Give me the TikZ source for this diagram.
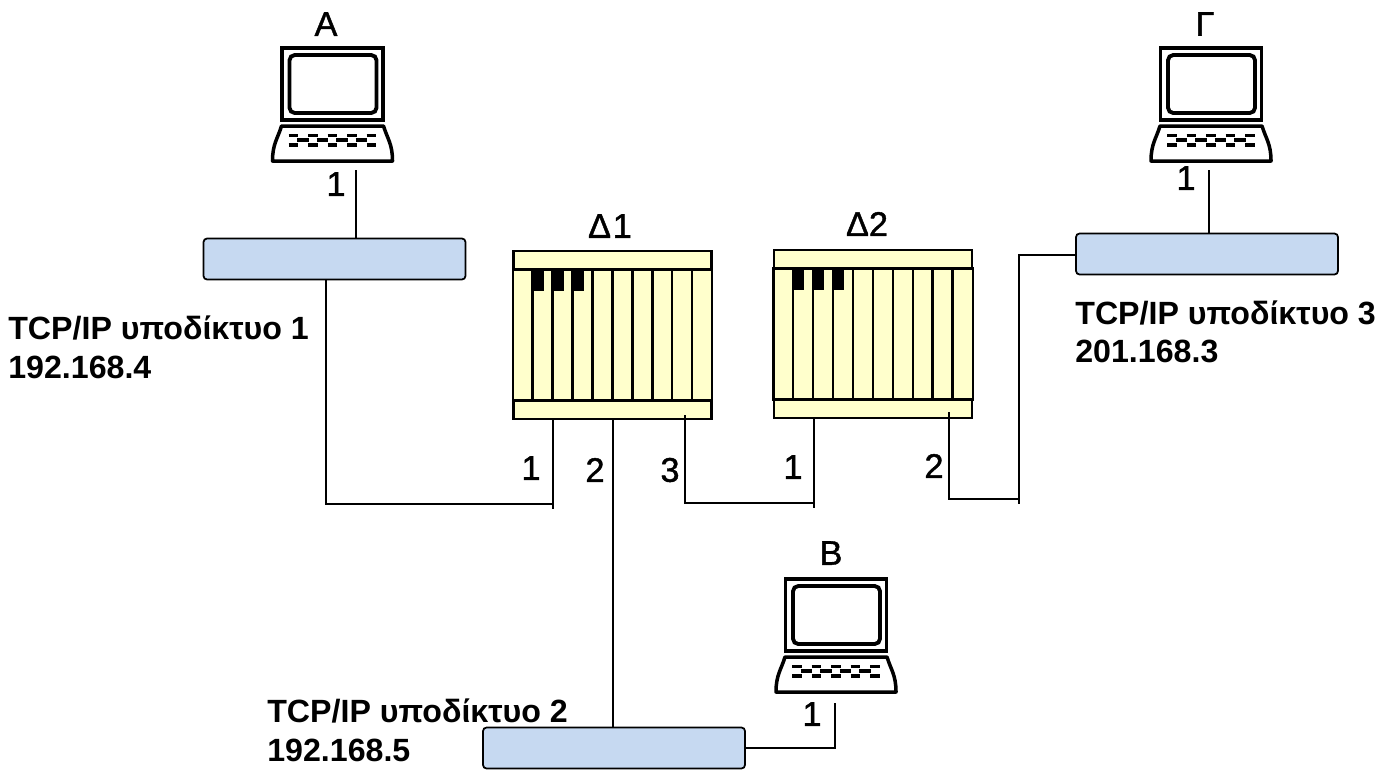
\documentclass[tikz,border=0pt]{standalone}
\usepackage{fontspec}
\setmainfont{Liberation Sans}
\newfontfamily\labelfont[FakeBold=1.2]{Liberation Sans}
\usepackage{xcolor}
\definecolor{netblue}{HTML}{C6D9F1}
\definecolor{rackyellow}{HTML}{FFFFCC}
\tikzset{
  link/.style={line width=1pt, line cap=butt},
  subnet/.style={draw, line width=1pt, rounded corners=2pt, fill=netblue,
    minimum width=5.24cm, minimum height=0.82cm, inner sep=0pt},
  name label/.style={font=\labelfont\fontsize{19.5}{22}\selectfont, inner sep=0pt},
  net label/.style={font=\fontsize{18.3}{22}\selectfont\bfseries, align=left, anchor=west, inner sep=0pt},
  pics/computer/.style={code={
    \node[draw, line width=1.9pt, minimum width=2.02cm, minimum height=1.44cm, inner sep=0pt] (-screen) at (0,37) {};
    \draw[line width=2.2pt, rounded corners=3pt] (-43,8) rectangle (44,66);
    \draw[line width=2pt, line join=round] (-51,79) -- (51,79) .. controls (55,92) and (60,97) .. (60,114) -- (-60,114) .. controls (-60,97) and (-55,92) .. (-51,79) -- cycle;
    \foreach \k in {0,...,4} {
      \draw[line width=2.1pt] (-44+19.5*\k,88.5) -- ++(9.5,0);
      \draw[line width=2.1pt] (-44+19.5*\k,98) -- ++(9.5,0);
    }
    \foreach \k in {0,...,3}
      \draw[line width=2.1pt] (-35.5+19.5*\k,93.3) -- ++(11.5,0);
  }},
  pics/rack/.style={code={
    \node[draw, line width=1.4pt, fill=rackyellow, minimum width=3.96cm, minimum height=0.37cm, inner sep=0pt] (-top) at (99.5,9) {};
    \node[draw, line width=1.4pt, fill=rackyellow, minimum width=3.96cm, minimum height=0.37cm, inner sep=0pt] (-bottom) at (99.5,159) {};
    \node[draw, line width=1.4pt, fill=rackyellow, minimum width=3.99cm, minimum height=2.62cm, inner sep=0pt] (-body) at (99.5,84) {};
    \foreach \k in {1,...,9}
      \draw[line width=1.4pt] ({-0.5+20*\k-(\k>7?0.6:0)},18.5) -- ++(0,131);
    \foreach \k in {1,2,3}
      \fill (-0.5+20*\k,18.5) rectangle ++(11,21);
  }}
}

\begin{document}
\begin{tikzpicture}[x=0.02cm, y=-0.02cm]
  \useasboundingbox (0,0) rectangle (1392,769);

  % Computers
  \pic (pcA) at (332.5,47) {computer};
  \pic (pcB) at (836,578) {computer};
  \pic (pcC) at (1211,47) {computer};
  \node[name label] (nameA) at (326,24) {Α};
  \node[name label] (nameB) at (831,553) {Β};
  \node[name label] (nameC) at (1205,24) {Γ};

  % Routers
  \pic (routerA) at (513,251) {rack};
  \pic (routerB) at (773.5,250) {rack};
  \node[name label] (nameD) at (610,226) {Δ\kern1pt 1};
  \node[name label] (nameE) at (867,224) {Δ2};

  % Subnets
  \node[subnet] (netA) at (334.5,259) {};
  \node[subnet] (netB) at (614,748) {};
  \node[subnet] (netC) at (1207,254) {};
  \node[net label] (textA) at (8,347.5) {TCP/IP υποδίκτυο 1\\192.168.4};
  \node[net label] (textB) at (267,730) {TCP/IP υποδίκτυο 2\\192.168.5};
  \node[net label] (textC) at (1075,332) {TCP/IP υποδίκτυο 3\\201.168.3};

  % Ports
  \coordinate (pcAport) at (356,170);
  \coordinate (netAtop) at (356,238);
  \coordinate (netAdown) at (326,280);
  \coordinate (portA1) at (553,419);
  \coordinate (portA1end) at (553,509);
  \coordinate (busA) at (553,504);
  \coordinate (portA2) at (613,419);
  \coordinate (netBtop) at (613,727);
  \coordinate (portA3) at (685,415);
  \coordinate (portB1) at (814,418);
  \coordinate (portB1end) at (814,508);
  \coordinate (busB) at (814,503);
  \coordinate (portB2) at (949,412);
  \coordinate (netCside) at (1076,255);
  \coordinate (riserC) at (1019,504);
  \coordinate (busC) at (1019,499);
  \coordinate (pcCport) at (1209,170);
  \coordinate (netCtop) at (1209,233);
  \coordinate (pcBport) at (835,703);
  \coordinate (netBside) at (745,748);

  % Edges
  \draw[link] (pcAport) -- (netAtop);
  \draw[link] (netAdown) |- (busA);
  \draw[link] (portA1) -- (portA1end);
  \draw[link] (portA2) -- (netBtop);
  \draw[link] (portA3) |- (busB);
  \draw[link] (portB1) -- (portB1end);
  \draw[link] (portB2) |- (busC);
  \draw[link] (netCside) -| (riserC);
  \draw[link] (pcCport) -- (netCtop);
  \draw[link] (pcBport) |- (netBside);

  % Port numbers
  \node[name label] (labelA) at (336,184) {1};
  \node[name label] (labelB) at (531,468) {1};
  \node[name label] (labelC) at (595,470) {2};
  \node[name label] (labelD) at (670,470) {3};
  \node[name label] (labelE) at (793,467) {1};
  \node[name label] (labelF) at (934,466) {2};
  \node[name label] (labelG) at (1186,178) {1};
  \node[name label] (labelH) at (812,714) {1};
\end{tikzpicture}
\end{document}
